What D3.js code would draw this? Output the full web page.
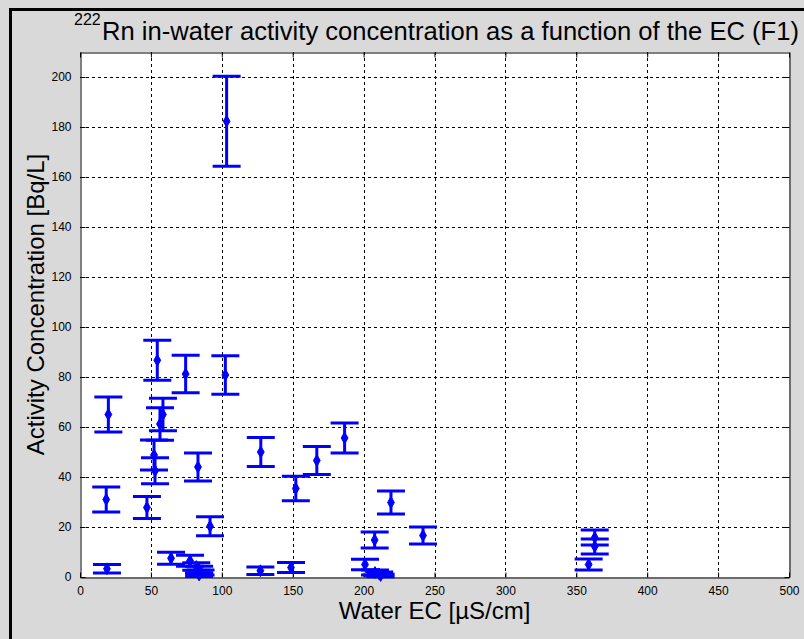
<!DOCTYPE html>
<html>
<head>
<meta charset="utf-8">
<script src="https://cdnjs.cloudflare.com/ajax/libs/d3/7.8.5/d3.min.js"></script>
<style>
  html, body { margin: 0; padding: 0; background: #d9d9d9; }
  svg { display: block; }
</style>
</head>
<body>
<svg id="chart" width="804" height="639"></svg>
<script>
// Data
const ecValues = [20, 18.5, 19, 54.5, 74.5, 102.5, 58.5, 56.4, 52.2, 52.9, 47.2, 83.2, 91.7, 127.5,
  64.2, 77.6, 82, 84, 85, 84, 127.2, 103.4, 152.2, 167, 186.6, 148.8, 207.8, 201, 208, 211, 212,
  219.3, 241.9, 363, 363, 358.7];
const activity = [65, 31, 3.3, 86.7, 81.2, 80.8, 65, 61.2, 48.8, 42.5, 27.8, 44, 20.3, 50,
  7.5, 6.5, 4.2, 3, 1.8, 0.8, 2.5, 182.3, 35.4, 46.6, 55.6, 3.8, 14.8, 5, 1.8, 1.2, 0.6,
  29.8, 16.6, 15.8, 12.2, 5];
const uncertainty = [7, 5, 1.7, 8, 7.5, 7.7, 6.5, 6.5, 6, 5.2, 4.4, 5.6, 3.8, 5.8,
  2.4, 2.2, 1.5, 1.3, 1, 0.6, 1.5, 18, 4.9, 5.6, 6, 2, 3.2, 2.1, 1, 0.8, 0.5,
  4.6, 3.4, 3, 3, 2.2];
const xTicks = [0, 50, 100, 150, 200, 250, 300, 350, 400, 450, 500];
const yTicks = [0, 20, 40, 60, 80, 100, 120, 140, 160, 180, 200];
const titleSup = "222";
const titleMain = "Rn in-water activity concentration as a function of the EC (F1)";
const xLabel = "Water EC [\u00B5S/cm]";
const yLabel = "Activity Concentration [Bq/L]";

const points = ecValues.map((x, i) => ({x, y: activity[i], e: uncertainty[i]}));

const svg = d3.select("#chart");
const L = 80, R = 789, T = 52, B = 577;
const x = d3.scaleLinear().domain([0, 500]).range([L, R]);
const y = d3.scaleLinear().domain([0, 210]).range([B, T]);

// figure background and black frame
svg.append("rect").attr("x", 0).attr("y", 0).attr("width", 804).attr("height", 639).attr("fill", "#d9d9d9");
svg.append("rect").attr("x", 10.5).attr("y", 9.5).attr("width", 820).attr("height", 660)
  .attr("fill", "none").attr("stroke", "#000").attr("stroke-width", 3);

// axes area
svg.append("rect").attr("x", L).attr("y", T).attr("width", R - L).attr("height", B - T).attr("fill", "#fff");

// grid
const grid = svg.append("g").attr("stroke", "#000").attr("stroke-width", 1).attr("stroke-dasharray", "3,3");
grid.selectAll("line.gx").data(xTicks.slice(1, -1)).enter().append("line")
  .attr("x1", d => Math.round(x(d)) + 0.5).attr("x2", d => Math.round(x(d)) + 0.5)
  .attr("y1", T).attr("y2", B);
grid.selectAll("line.gy").data(yTicks.slice(1)).enter().append("line")
  .attr("y1", d => Math.round(y(d)) + 0.5).attr("y2", d => Math.round(y(d)) + 0.5)
  .attr("x1", L).attr("x2", R);

// axes via d3 axis generators (ticks inside)
const fontTick = "12px 'Liberation Sans', Arial, sans-serif";
const axB = svg.append("g").attr("transform", `translate(0,${B + 0.5})`)
  .call(d3.axisBottom(x).tickValues(xTicks).tickSizeInner(-5).tickSizeOuter(0).tickPadding(10));
const axT = svg.append("g").attr("transform", `translate(0,${T + 0.5})`)
  .call(d3.axisTop(x).tickValues(xTicks).tickSizeInner(-5).tickSizeOuter(0).tickFormat(""));
const axL = svg.append("g").attr("transform", `translate(${L + 0.5},0)`)
  .call(d3.axisLeft(y).tickValues(yTicks).tickSizeInner(-5).tickSizeOuter(0).tickPadding(9));
const axR = svg.append("g").attr("transform", `translate(${R + 0.5},0)`)
  .call(d3.axisRight(y).tickValues(yTicks).tickSizeInner(-5).tickSizeOuter(0).tickFormat(""));
[axB, axT, axL, axR].forEach(a => {
  a.select(".domain").attr("stroke", "#000").attr("stroke-width", 1);
  a.selectAll(".tick line").attr("stroke", "#000");
  a.selectAll("text").style("font", fontTick).attr("fill", "#000");
});
axB.selectAll(".tick text").attr("y", 0).attr("dy", "0").attr("transform", "translate(0,17)");

// error bars
const eb = svg.append("g").attr("stroke", "#0000ff").attr("stroke-width", 3).attr("fill", "none");
const cap = 14;
const grp = eb.selectAll("g").data(points).enter().append("g");
grp.append("line").attr("x1", d => x(d.x)).attr("x2", d => x(d.x))
  .attr("y1", d => y(d.y + d.e)).attr("y2", d => y(Math.max(0, d.y - d.e)));
grp.append("line").attr("x1", d => x(d.x) - cap).attr("x2", d => x(d.x) + cap)
  .attr("y1", d => y(d.y + d.e)).attr("y2", d => y(d.y + d.e));
grp.append("line").attr("x1", d => x(d.x) - cap).attr("x2", d => x(d.x) + cap)
  .attr("y1", d => y(d.y - d.e)).attr("y2", d => y(d.y - d.e));

// markers
const diamond = d3.symbol().type(d3.symbolDiamond).size(40);
svg.append("g").selectAll("path").data(points).enter().append("path")
  .attr("d", diamond).attr("transform", d => `translate(${x(d.x)},${y(d.y)})`)
  .attr("fill", "#0000ff").attr("stroke", "#0000ff").attr("stroke-width", 1);

// title
const fontFam = "'Liberation Sans', Arial, sans-serif";
svg.append("text").attr("x", 74).attr("y", 25).text(titleSup)
  .style("font-family", fontFam).style("font-size", "16px").attr("fill", "#000");
svg.append("text").attr("x", 102).attr("y", 40).text(titleMain)
  .style("font-family", fontFam).style("font-size", "25px").attr("fill", "#000")
  .attr("textLength", 697).attr("lengthAdjust", "spacingAndGlyphs");

// axis labels
svg.append("text").attr("x", (L + R) / 2).attr("y", 619).attr("text-anchor", "middle").text(xLabel)
  .style("font-family", fontFam).style("font-size", "24px").attr("fill", "#000");
svg.append("text").attr("transform", `translate(44,${(T + B) / 2 - 10}) rotate(-90)`)
  .attr("text-anchor", "middle").text(yLabel)
  .style("font-family", fontFam).style("font-size", "24px").attr("fill", "#000");
</script>
</body>
</html>
